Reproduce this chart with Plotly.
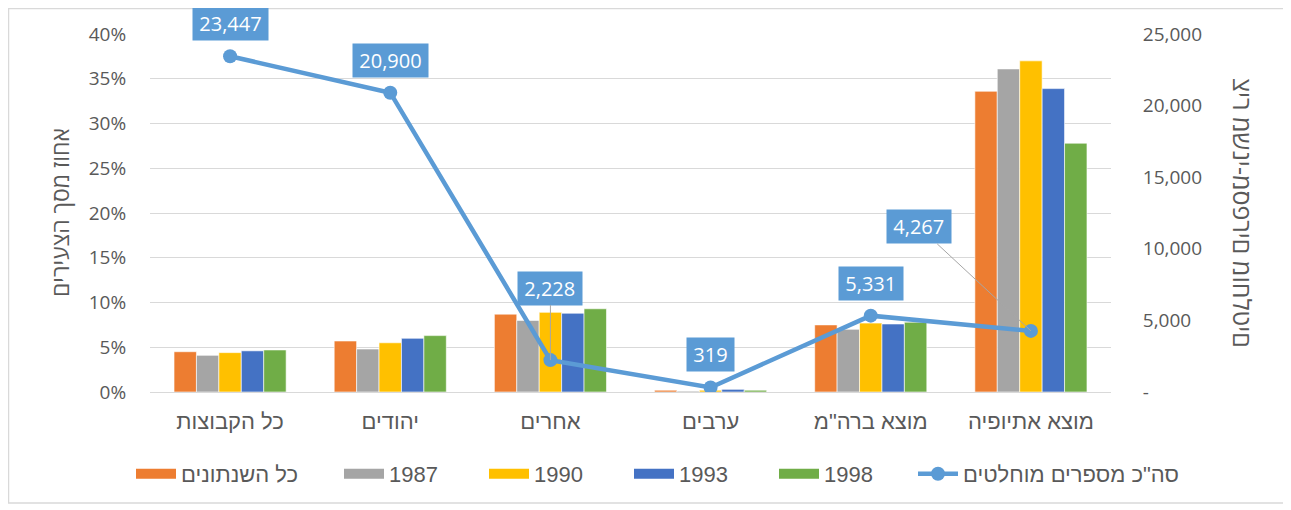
import plotly.graph_objects as go

categories = ["כל הקבוצות", "יהודים", "אחרים", "ערבים", "מוצא ברה\"מ", "מוצא אתיופיה"]
all_years = [4.5, 5.7, 8.7, 0.2, 7.5, 33.6]
y1987 = [4.1, 4.8, 8.0, 0.1, 7.0, 36.1]
y1990 = [4.4, 5.5, 8.9, 0.2, 7.7, 37.0]
y1993 = [4.6, 6.0, 8.8, 0.3, 7.6, 33.9]
y1998 = [4.7, 6.3, 9.3, 0.2, 7.8, 27.8]
totals = [23447, 20900, 2228, 319, 5331, 4267]

series_names = ["כל השנתונים", "1987", "1990", "1993", "1998"]
line_name = "סה\"כ מספרים מוחלטים"
left_ticks = [0, 5, 10, 15, 20, 25, 30, 35, 40]
left_ticktext = ["0%", "5%", "10%", "15%", "20%", "25%", "30%", "35%", "40%"]
right_ticks = [0, 5000, 10000, 15000, 20000, 25000]
right_ticktext = ["-", "5,000", "10,000", "15,000", "20,000", "25,000"]
left_title = "אחוז מסך הצעירים"
right_title = "ציר משני-מספרים מוחלטים"

colors = ["#ED7D31", "#A5A5A5", "#FFC000", "#4472C4", "#70AD47"]
line_color = "#5B9BD5"
text_color = "#595959"

# label offsets (pixels) and leader-line visibility
label_dx = [0, 0, 0, 0, 0, -112]
label_dy = [-33, -32, -72, -33, -32, -104]
leader = [False, False, True, False, False, True]

num_font = "Open Sans, Noto Sans, DejaVu Sans"
heb_font = "Liberation Sans, Arial, DejaVu Sans"

# page body has an 8px margin; plot area targets page px 150..1111 x 34..392
PAGE_OFF = 8
PL, PR, PT, PB = 150, 1111, 34, 392


def px(x):
    return (x - PL) / (PR - PL)


def py(y):
    return (PB - y) / (PB - PT)


fig = go.Figure()
legend_ids = ["legend", "legend2", "legend2", "legend2", "legend2"]
for name, vals, c, lg in zip(series_names, [all_years, y1987, y1990, y1993, y1998], colors, legend_ids):
    fig.add_trace(go.Bar(x=categories, y=vals, name=name, showlegend=False,
                         marker=dict(color=c, line=dict(color="white", width=0.6)), yaxis="y"))
    # legend swatch entry (wide rectangle)
    fig.add_trace(go.Scatter(x=[None], y=[None], name=name, mode="lines", legend=lg,
                             line=dict(color=c, width=14), yaxis="y", hoverinfo="skip"))

fig.add_trace(go.Scatter(x=categories, y=totals, name=line_name, mode="lines+markers", yaxis="y2",
                         legend="legend3",
                         line=dict(color=line_color, width=4.5), marker=dict(size=14, color=line_color)))

for cat, v, dx, dy, ld in zip(categories, totals, label_dx, label_dy, leader):
    fig.add_annotation(x=cat, y=v, xref="x", yref="y2", text=f"\u2009{v:,}\u2009", showarrow=True,
                       ax=dx, ay=dy, arrowhead=0, arrowwidth=1,
                       arrowcolor="#A6A6A6" if ld else "rgba(0,0,0,0)",
                       bgcolor=line_color, borderpad=3,
                       font=dict(family=num_font, size=20, color="white"))

fig.add_annotation(x=px(60), y=py(213), xref="paper", yref="paper", text=left_title,
                   xanchor="center", yanchor="middle",
                   textangle=-90, showarrow=False, font=dict(family=num_font, size=23, color=text_color))
fig.add_annotation(x=px(1243), y=py(213), xref="paper", yref="paper",
                   text="\u202D" + right_title + "\u202C", xanchor="center", yanchor="middle",
                   textangle=90, showarrow=False, font=dict(family=num_font, size=25, color=text_color))

fig.add_shape(type="rect", xref="paper", yref="paper",
              x0=px(8.5), x1=px(1289), y0=py(503), y1=py(8.5),
              line=dict(color="#D9D9D9", width=1.5), fillcolor="rgba(0,0,0,0)", layer="below")

leg_common = dict(orientation="h", xanchor="left", yanchor="middle", y=py(474),
                  font=dict(family=heb_font, size=22, color=text_color), itemwidth=40,
                  bgcolor="rgba(0,0,0,0)")

fig.update_layout(
    width=1291 - PAGE_OFF, height=510 - PAGE_OFF,
    margin=dict(l=PL - PAGE_OFF, r=1291 - PR, t=PT - PAGE_OFF, b=510 - PB),
    paper_bgcolor="white", plot_bgcolor="white",
    barmode="group", bargap=0.3, bargroupgap=0,
    showlegend=True,
    legend=dict(x=px(131), **leg_common),
    legend2=dict(x=px(339), entrywidth=90, entrywidthmode="pixels", **leg_common),
    legend3=dict(x=px(913), **leg_common),
    xaxis=dict(showgrid=False, showline=True, linecolor="#D9D9D9", linewidth=1, automargin=False,
               tickfont=dict(family=heb_font, size=22, color=text_color),
               ticks="outside", ticklen=10, tickcolor="rgba(0,0,0,0)"),
    yaxis=dict(range=[0, 40], tickvals=left_ticks, ticktext=left_ticktext, showgrid=True, gridcolor="#D9D9D9",
               gridwidth=1, zeroline=False, showline=False, automargin=False,
               tickfont=dict(family=num_font, size=19, color=text_color),
               ticks="outside", ticklen=19, tickcolor="rgba(0,0,0,0)"),
    yaxis2=dict(range=[0, 25000], overlaying="y", side="right", tickvals=right_ticks, ticktext=right_ticktext,
                showgrid=False, zeroline=False, showline=False, automargin=False,
                tickfont=dict(family=num_font, size=19, color=text_color),
                ticks="outside", ticklen=27, tickcolor="rgba(0,0,0,0)"),
)

fig.write_html("out.html")
